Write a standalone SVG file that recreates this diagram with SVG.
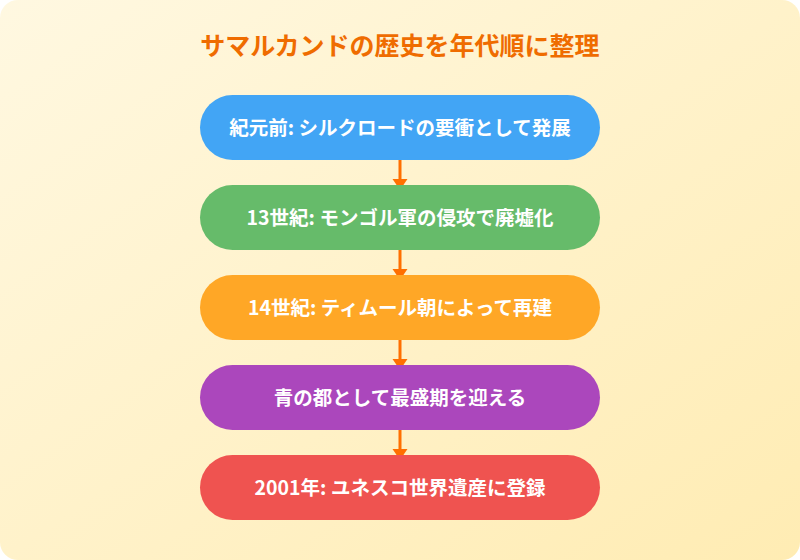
<svg xmlns="http://www.w3.org/2000/svg" width="800" height="560" viewBox="0 0 800 560">
  <defs>
    <linearGradient id="bg" x1="0" y1="0" x2="1" y2="1">
      <stop offset="0" stop-color="#FFF8E1"/>
      <stop offset="1" stop-color="#FFECB3"/>
    </linearGradient>
    <style>
      .title { font-family: "Noto Sans CJK JP", "Noto Sans", sans-serif; font-weight: 700; font-size: 25px; fill: #EF6C00; text-anchor: middle; }
      .label { font-family: "Noto Sans CJK JP", "Noto Sans", sans-serif; font-weight: 700; font-size: 19.5px; fill: #FFFFFF; text-anchor: middle; }
      .conn { stroke: #FF6F00; stroke-width: 3; fill: none; }
      .head { fill: #FF6F00; }
    </style>
  </defs>
  <rect x="0" y="0" width="800" height="560" fill="#FFFFFF"/>
  <rect x="0" y="0" width="800" height="560" rx="18" ry="18" fill="url(#bg)"/>
  <text class="title" x="400" y="55">サマルカンドの歴史を年代順に整理</text>
  <g id="connectors">
    <line class="conn" x1="400" y1="160" x2="400" y2="181"/>
    <polygon class="head" points="392.5,179 407.5,179 400,190"/>
    <line class="conn" x1="400" y1="250" x2="400" y2="271"/>
    <polygon class="head" points="392.5,269 407.5,269 400,280"/>
    <line class="conn" x1="400" y1="340" x2="400" y2="361"/>
    <polygon class="head" points="392.5,359 407.5,359 400,370"/>
    <line class="conn" x1="400" y1="430" x2="400" y2="451"/>
    <polygon class="head" points="392.5,449 407.5,449 400,460"/>
  </g>
  <g id="node1">
    <rect x="200" y="95" width="400" height="65" rx="32.5" fill="#42A5F5"/>
    <text class="label" x="400" y="134.5">紀元前: シルクロードの要衝として発展</text>
  </g>
  <g id="node2">
    <rect x="200" y="185" width="400" height="65" rx="32.5" fill="#66BB6A"/>
    <text class="label" x="400" y="224.5">13世紀: モンゴル軍の侵攻で廃墟化</text>
  </g>
  <g id="node3">
    <rect x="200" y="275" width="400" height="65" rx="32.5" fill="#FFA726"/>
    <text class="label" x="400" y="314.5">14世紀: ティムール朝によって再建</text>
  </g>
  <g id="node4">
    <rect x="200" y="365" width="400" height="65" rx="32.5" fill="#AB47BC"/>
    <text class="label" x="400" y="404.5">青の都として最盛期を迎える</text>
  </g>
  <g id="node5">
    <rect x="200" y="455" width="400" height="65" rx="32.5" fill="#EF5350"/>
    <text class="label" x="400" y="494.5">2001年: ユネスコ世界遺産に登録</text>
  </g>
</svg>
